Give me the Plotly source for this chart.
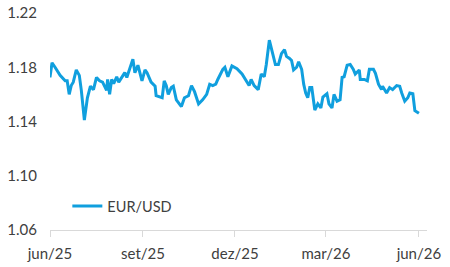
import plotly.graph_objects as go

dates = [
    "2025-06-01", "2025-06-03", "2025-06-06", "2025-06-11", "2025-06-16", "2025-06-18",
    "2025-06-20", "2025-06-22", "2025-06-24", "2025-06-27", "2025-06-30", "2025-07-02",
    "2025-07-05", "2025-07-08", "2025-07-11", "2025-07-14", "2025-07-17", "2025-07-20",
    "2025-07-23", "2025-07-27", "2025-07-28", "2025-07-30", "2025-08-01", "2025-08-03",
    "2025-08-06", "2025-08-08", "2025-08-11", "2025-08-14", "2025-08-16", "2025-08-19",
    "2025-08-22", "2025-08-24", "2025-08-27", "2025-08-31", "2025-09-03", "2025-09-05",
    "2025-09-09", "2025-09-13", "2025-09-14", "2025-09-20", "2025-09-22", "2025-09-24",
    "2025-09-26", "2025-09-29", "2025-10-01", "2025-10-04", "2025-10-09", "2025-10-12",
    "2025-10-16", "2025-10-19", "2025-10-22", "2025-10-26", "2025-10-30", "2025-11-03",
    "2025-11-06", "2025-11-09", "2025-11-12", "2025-11-14", "2025-11-16", "2025-11-19",
    "2025-11-21", "2025-11-24", "2025-11-28", "2025-12-03", "2025-12-08", "2025-12-11",
    "2025-12-15", "2025-12-17", "2025-12-20", "2025-12-24", "2025-12-27", "2025-12-30",
    "2026-01-01", "2026-01-04", "2026-01-07", "2026-01-10", "2026-01-13", "2026-01-16",
    "2026-01-19", "2026-01-21", "2026-01-24", "2026-01-26", "2026-01-28", "2026-01-31",
    "2026-02-02", "2026-02-05", "2026-02-07", "2026-02-09", "2026-02-11", "2026-02-13",
    "2026-02-15", "2026-02-18", "2026-02-21", "2026-02-24", "2026-02-26", "2026-03-02",
    "2026-03-04", "2026-03-07", "2026-03-09", "2026-03-12", "2026-03-15", "2026-03-17",
    "2026-03-19", "2026-03-22", "2026-03-25", "2026-03-28", "2026-03-30", "2026-04-03",
    "2026-04-04", "2026-04-08", "2026-04-11", "2026-04-13", "2026-04-17", "2026-04-19",
    "2026-04-22", "2026-04-25", "2026-04-26", "2026-04-30", "2026-05-03", "2026-05-06",
    "2026-05-10", "2026-05-13", "2026-05-15", "2026-05-18", "2026-05-21", "2026-05-23",
    "2026-05-26", "2026-05-28", "2026-06-01",
]

eur_usd = [
    1.1725, 1.1833, 1.180, 1.174, 1.170, 1.170,
    1.160, 1.1665, 1.169, 1.178, 1.174, 1.163,
    1.141, 1.1575, 1.166, 1.1635, 1.1725, 1.170,
    1.169, 1.163, 1.171, 1.160, 1.171, 1.168,
    1.173, 1.169, 1.1725, 1.176, 1.1725, 1.1785,
    1.186, 1.176, 1.1815, 1.170, 1.178, 1.176,
    1.169, 1.166, 1.159, 1.1575, 1.170, 1.1665,
    1.160, 1.165, 1.166, 1.156, 1.151, 1.1575,
    1.159, 1.1665, 1.162, 1.153, 1.156, 1.160,
    1.1675, 1.1665, 1.1675, 1.171, 1.174, 1.1785,
    1.180, 1.173, 1.181, 1.179, 1.175, 1.171,
    1.1665, 1.171, 1.1665, 1.1635, 1.175, 1.173,
    1.182, 1.200, 1.190, 1.182, 1.182, 1.190,
    1.193, 1.188, 1.1865, 1.185, 1.178, 1.180,
    1.184, 1.1785, 1.1675, 1.161, 1.1575, 1.165,
    1.165, 1.1485, 1.153, 1.150, 1.158, 1.1605,
    1.153, 1.150, 1.160, 1.155, 1.156, 1.1725,
    1.173, 1.1815, 1.182, 1.1785, 1.175, 1.178,
    1.171, 1.171, 1.170, 1.1785, 1.1785, 1.1755,
    1.1675, 1.1635, 1.166, 1.161, 1.165, 1.1635,
    1.1665, 1.166, 1.161, 1.155, 1.1575, 1.161,
    1.1605, 1.148, 1.146,
]

tick_dates = ["2025-06-01", "2025-09-01", "2025-12-01", "2026-03-01", "2026-06-01"]
tick_labels = ["jun/25", "set/25", "dez/25", "mar/26", "jun/26"]
y_ticks = [1.06, 1.10, 1.14, 1.18, 1.22]
y_labels = ["1.06", "1.10", "1.14", "1.18", "1.22"]

fig = go.Figure()
fig.add_trace(go.Scatter(
    x=dates, y=eur_usd, mode="lines", name="EUR/USD",
    line=dict(color="#109FDE", width=3),
))

font = dict(family="Lato, 'Liberation Sans', sans-serif", size=15, color="#404040")

fig.update_layout(
    width=450, height=267,
    margin=dict(l=50, r=23, t=13, b=37, autoexpand=False),
    paper_bgcolor="white", plot_bgcolor="white",
    font=font,
    showlegend=True,
    legend=dict(x=0.046, y=0.11, xanchor="left", yanchor="middle",
                bgcolor="rgba(0,0,0,0)", font=dict(font, size=14.5), itemwidth=30),
    xaxis=dict(
        type="date", range=["2025-06-01", "2026-06-09"],
        tickvals=tick_dates, ticktext=tick_labels,
        showgrid=False, showline=True, linecolor="#d9d9d9", linewidth=1,
        ticks="outside", ticklen=6, tickcolor="#d9d9d9",
        zeroline=False, tickfont=font, ticklabelstandoff=4, automargin=False,
    ),
    yaxis=dict(
        range=[1.06, 1.22], tickvals=y_ticks, ticktext=y_labels,
        showgrid=False, showline=False, zeroline=False,
        ticklabelstandoff=12, tickfont=font, automargin=False,
    ),
)

fig.write_html("out.html")
